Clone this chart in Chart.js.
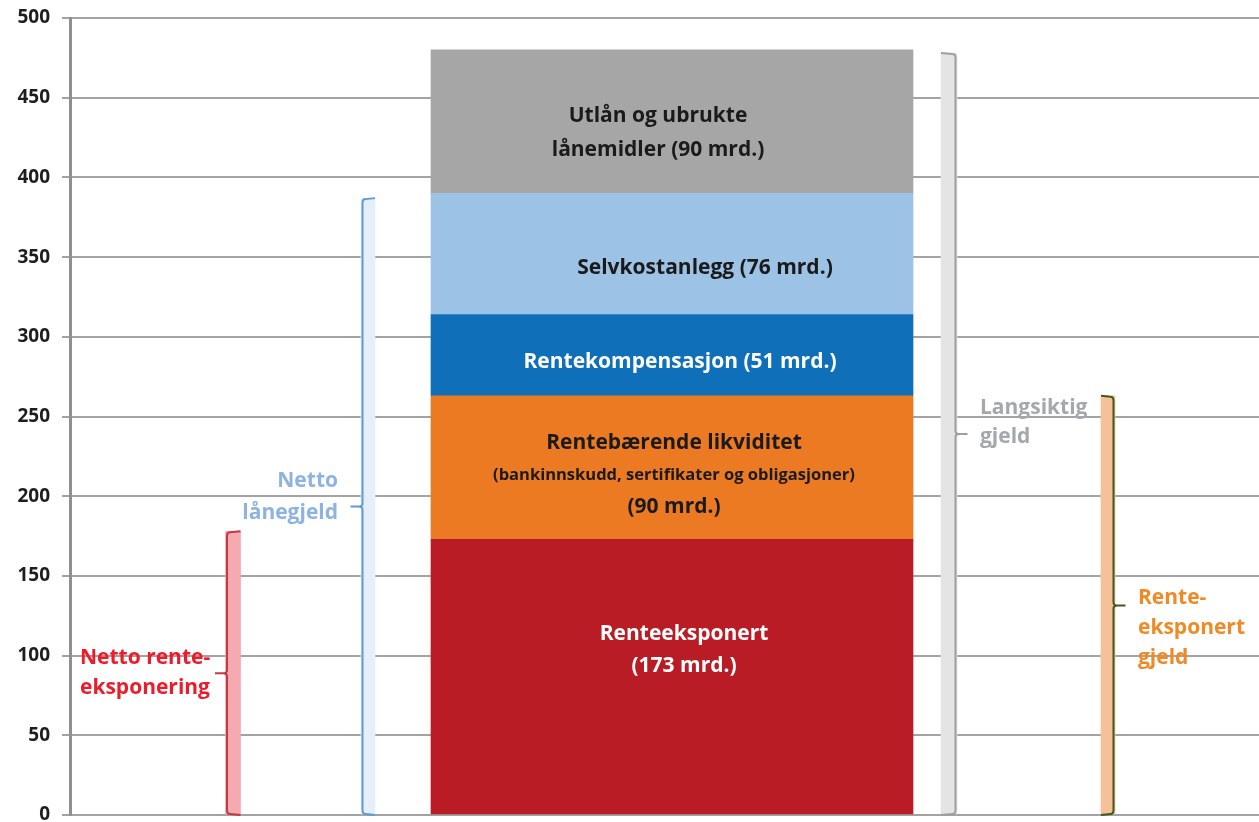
<!DOCTYPE html>
<html>
<head>
<meta charset="utf-8">
<script src="https://cdn.jsdelivr.net/npm/chart.js@4"></script>
<style>
  html, body { margin: 0; padding: 0; background: #fff; }
  #wrap { width: 1259px; height: 822px; }
</style>
</head>
<body>
<div id="wrap"><canvas id="chart" width="1259" height="822"></canvas></div>
<script>
// Stacked bar segments (bottom to top), mrd. kr
const segmentNames = ['Renteeksponert', 'Rentebærende likviditet', 'Rentekompensasjon', 'Selvkostanlegg', 'Utlån og ubrukte lånemidler'];
const segmentValues = [173, 90, 51, 76, 90];
const segmentColors = ['#b91c24', '#ec7a22', '#0f6fb8', '#9cc2e5', '#a6a6a6'];

// Brackets beside the bar (low / high value)
const bracketNames = ['Netto renteeksponering', 'Netto lånegjeld', 'Langsiktig gjeld', 'Renteeksponert gjeld'];
const bracketLow = [0, 0, 0, 0];
const bracketHigh = [178, 387, 478, 263];

const yTicks = [0, 50, 100, 150, 200, 250, 300, 350, 400, 450, 500];

// layout (x in pixel-like units of a hidden linear axis)
const mainX = 602, mainWidth = 482;
const bracketX = [163, 298, 879, 1038];
const bracketWidth = [15, 14, 16, 14];
const bracketFill = ['#f5a9b0', '#e6eff9', '#e4e4e4', '#f6c199'];
const bracketLine = ['#c73741', '#5d9bd6', '#9e9e9e', '#3f5a20'];
const bracketSide = ['left', 'left', 'right', 'right'];

const FONT = '"Open Sans", "DejaVu Sans", sans-serif';

// cumulative starts for the floating segments
const starts = [];
segmentValues.reduce((acc, v) => { starts.push(acc); return acc + v; }, 0);

const datasets = segmentValues.map((v, i) => ({
    label: segmentNames[i],
    data: [{ x: mainX, y: [starts[i], starts[i] + v] }],
    backgroundColor: segmentColors[i],
    barThickness: mainWidth,
    borderWidth: 0
}));
bracketNames.forEach((name, i) => {
    datasets.push({
        label: name,
        data: [{ x: bracketX[i], y: [bracketLow[i], bracketHigh[i]] }],
        backgroundColor: bracketFill[i],
        barThickness: bracketWidth[i],
        borderWidth: 0
    });
});

function drawLines(ctx, lines, x, yc, lh, align) {
    ctx.textAlign = align;
    ctx.textBaseline = 'middle';
    const y0 = yc - (lines.length - 1) * lh / 2;
    lines.forEach((l, k) => {
        ctx.font = l.font;
        ctx.fillStyle = l.color;
        ctx.fillText(l.text, x, y0 + k * lh);
    });
}

const overlay = {
    id: 'overlay',
    afterDatasetsDraw(chart) {
        const ctx = chart.ctx;
        const y = chart.scales.y;
        ctx.save();

        // brackets
        bracketNames.forEach((name, i) => {
            const bar = chart.getDatasetMeta(segmentValues.length + i).data[0];
            const left = bar.x - bar.width / 2, right = bar.x + bar.width / 2;
            const top = y.getPixelForValue(bracketHigh[i]);
            const bot = y.getPixelForValue(bracketLow[i]);
            const mid = (top + bot) / 2;
            const dir = bracketSide[i] === 'left' ? -1 : 1;
            const lx = bracketSide[i] === 'left' ? left + 1.5 : right - 1.5;
            const ex = bracketSide[i] === 'left' ? right : left;
            ctx.strokeStyle = bracketLine[i];
            ctx.lineWidth = 2;
            ctx.beginPath();
            ctx.moveTo(ex, top);
            ctx.lineTo(lx - dir * 3, top + 1);
            ctx.quadraticCurveTo(lx, top + 1, lx, top + 5);
            ctx.lineTo(lx, mid - 3);
            ctx.quadraticCurveTo(lx, mid, lx + dir * 4, mid);
            ctx.lineTo(lx + dir * 12, mid);
            ctx.moveTo(lx + dir * 4, mid);
            ctx.quadraticCurveTo(lx, mid, lx, mid + 3);
            ctx.lineTo(lx, bot - 5);
            ctx.quadraticCurveTo(lx, bot - 1, lx - dir * 3, bot - 1);
            ctx.lineTo(ex, bot);
            ctx.stroke();
        });

        // labels inside the main bar
        const main = chart.getDatasetMeta(0).data[0];
        const cx = main.x;
        const segMid = i => y.getPixelForValue(starts[i] + segmentValues[i] / 2);
        const big = 'bold 21px ' + FONT;
        drawLines(ctx, [
            { text: 'Renteeksponert', font: big, color: '#ffffff' },
            { text: '(173 mrd.)', font: big, color: '#ffffff' }
        ], cx + 12, segMid(0) - 27, 32, 'center');
        drawLines(ctx, [
            { text: 'Rentebærende likviditet', font: big, color: '#1a1a1a' },
            { text: '(bankinnskudd, sertifikater og obligasjoner)', font: 'bold 16.5px ' + FONT, color: '#1a1a1a' },
            { text: '(90 mrd.)', font: big, color: '#1a1a1a' }
        ], cx + 2, segMid(1) + 8, 32, 'center');
        drawLines(ctx, [
            { text: 'Rentekompensasjon (51 mrd.)', font: big, color: '#ffffff' }
        ], cx + 8, segMid(2) + 7, 32, 'center');
        drawLines(ctx, [
            { text: 'Selvkostanlegg (76 mrd.)', font: big, color: '#1a1a1a' }
        ], cx + 33, segMid(3) + 14, 32, 'center');
        drawLines(ctx, [
            { text: 'Utlån og ubrukte', font: big, color: '#1a1a1a' },
            { text: 'lånemidler (90 mrd.)', font: big, color: '#1a1a1a' }
        ], cx - 14, segMid(4) + 11, 34, 'center');

        // bracket captions
        const bm = i => {
            const b = chart.getDatasetMeta(segmentValues.length + i).data[0];
            return { l: b.x - b.width / 2, r: b.x + b.width / 2,
                     m: (y.getPixelForValue(bracketHigh[i]) + y.getPixelForValue(bracketLow[i])) / 2 };
        };
        const cap = 'bold 21px ' + FONT;
        let b = bm(0);
        drawLines(ctx, [
            { text: 'Netto rente-', font: cap, color: '#ee1c2a' },
            { text: 'eksponering', font: cap, color: '#ee1c2a' }
        ], 80, b.m, 30, 'left');
        b = bm(1);
        drawLines(ctx, [
            { text: 'Netto', font: cap, color: '#8db3e2' },
            { text: 'lånegjeld', font: cap, color: '#8db3e2' }
        ], b.l - 23, b.m - 10, 32, 'right');
        b = bm(2);
        drawLines(ctx, [
            { text: 'Langsiktig', font: cap, color: '#a3a7ae' },
            { text: 'gjeld', font: cap, color: '#a3a7ae' }
        ], b.r + 23, b.m - 12, 29, 'left');
        b = bm(3);
        drawLines(ctx, [
            { text: 'Rente-', font: cap, color: '#f08a24' },
            { text: 'eksponert', font: cap, color: '#f08a24' },
            { text: 'gjeld', font: cap, color: '#f08a24' }
        ], b.r + 23, b.m + 23, 30, 'left');

        ctx.restore();
    }
};

new Chart(document.getElementById('chart'), {
    type: 'bar',
    data: { datasets: datasets },
    plugins: [overlay],
    options: {
        responsive: false,
        animation: false,
        events: [],
        layout: { padding: { top: 18, right: 0, bottom: 7, left: 0 } },
        plugins: { legend: { display: false }, tooltip: { enabled: false } },
        datasets: { bar: { grouped: false } },
        scales: {
            x: {
                type: 'linear',
                min: 0,
                max: 1189,
                offset: false,
                display: false
            },
            y: {
                min: 0,
                max: 500,
                afterBuildTicks: axis => { axis.ticks = yTicks.map(v => ({ value: v })); },
                afterFit: axis => {
                    axis.width = 70;
                    axis.paddingTop = 0;
                    axis.paddingBottom = 0;
                },
                grid: { color: '#a3a3a3', lineWidth: 2, tickLength: 8 },
                border: { color: '#8f8f8f', width: 3 },
                ticks: {
                    color: '#1e1e1e',
                    padding: 12,
                    font: { family: FONT, weight: 'bold', size: 19 }
                }
            }
        }
    }
});
</script>
</body>
</html>
